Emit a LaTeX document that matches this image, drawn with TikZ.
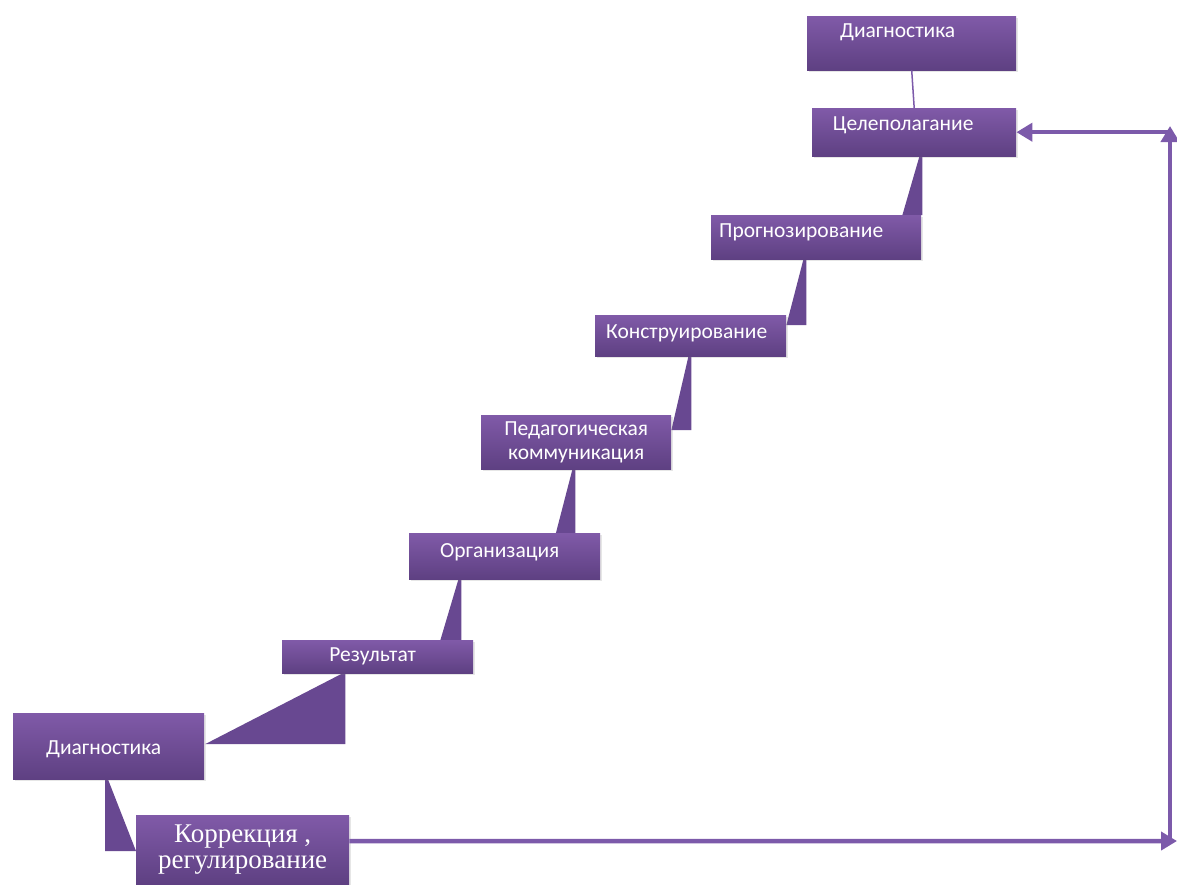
\documentclass[tikz,border=0pt]{standalone}
\usepackage{fontspec}
\setmainfont{Carlito}
\newfontfamily\korrfont{Liberation Serif}
\usetikzlibrary{calc}
\usetikzlibrary{backgrounds}
\usetikzlibrary{shadows}
\usetikzlibrary{arrows.meta}

\definecolor{boxtop}{RGB}{128,90,168}
\definecolor{boxbot}{RGB}{94,64,130}
\definecolor{wedgecol}{RGB}{104,72,145}
\definecolor{linkcol}{RGB}{124,90,170}

% wedge under a step: upper box, lower box, x of right side, length, drop
\newcommand{\stairlink}[5]{%
  \fill[wedge] ($(#2.north east)+(#3,#5)$) -- ++(-#4,0)
    -- ($(#2.north east |- #1.south)+(#3-3,0)$)
    -- ($(#2.north east |- #1.south)+(#3,0)$) -- cycle;}

\begin{document}
\begin{tikzpicture}[x=1pt, y=-1pt,
    stepbox/.style={rectangle, anchor=north west, top color=boxtop, bottom color=boxbot,
      text=white, inner sep=2pt, font=\fontsize{21.5pt}{24pt}\selectfont,
      drop shadow={shadow xshift=2pt, shadow yshift=-2pt, opacity=0.2}},
    boxsize/.style 2 args={minimum width=#1pt, minimum height=#2pt},
    lift/.style={text height=14pt, text depth=#1},
    wedge/.style={fill=wedgecol},
    flow/.style={draw=linkcol, line width=4.5pt, -{Triangle[length=16pt,width=18pt]}}]
            \useasboundingbox (0,0) rectangle (1177,884);

            % Steps
            \node[stepbox, boxsize={209}{54}, lift=26pt] (diagT) at (807,16) {Диагностика\hspace*{28pt}};
            \node[stepbox, boxsize={204}{48}, lift=18pt] (cel) at (812,108) {Целеполагание\hspace*{22pt}};
            \node[stepbox, boxsize={210}{44}, lift=14pt] (prog) at (711,215) {Прогнозирование\hspace*{30pt}};
            \node[stepbox, boxsize={191}{41}, lift=9pt] (kon) at (595,315) {Конструирование\hspace*{8pt}};
            \node[stepbox, boxsize={190}{54}, align=center] (ped) at (481,415) {Педагогическая\\коммуникация};
            \node[stepbox, boxsize={191}{46}, lift=12pt] (org) at (409,533) {Организация\hspace*{10pt}};
            \node[stepbox, boxsize={191}{33}, lift=5pt] (rez) at (282,640) {Результат\hspace*{10pt}};
            \node[stepbox, boxsize={191}{66}, lift=2pt, text height=18pt] (diagB) at (13,713) {Диагностика\hspace*{10pt}};
            \node[stepbox, boxsize={213}{69}, align=center,
              font=\korrfont\fontsize{27pt}{26pt}\selectfont] (korr) at (136,815) {Коррекция ,\\регулирование};

            % Wedges
            \begin{scope}[on background layer]
            \stairlink{cel}{prog}{1}{20}{0}
            \stairlink{prog}{kon}{20}{20}{10}
            \stairlink{kon}{ped}{20}{20}{15}
            \stairlink{ped}{org}{-25}{20}{2}
            \stairlink{org}{rez}{-12}{21}{0}
            \stairlink{rez}{diagB}{141}{140}{31}
            \fill[wedge] ($(korr.north west)+(0,36)$) -- ++(-31,0)
              -- ($(korr.north west |- diagB.south)+(-31,0)$)
              -- ($(korr.north west |- diagB.south)+(-28,0)$) -- cycle;
            \end{scope}

            % Links
            \draw[linkcol, line width=1.5pt] (diagT.south) -- (cel.north);
            \coordinate (c1) at (1177,841);
            \coordinate (c2) at (1170,843);
            \coordinate (c3) at (1170,126);
            \draw[flow] ([yshift=8.5pt]korr.east) -- (c1);
            \draw[flow] (c2) -- (c3);
            \draw[flow] (c3 |- cel.east) -- (cel.east);
        \end{tikzpicture}
\end{document}
